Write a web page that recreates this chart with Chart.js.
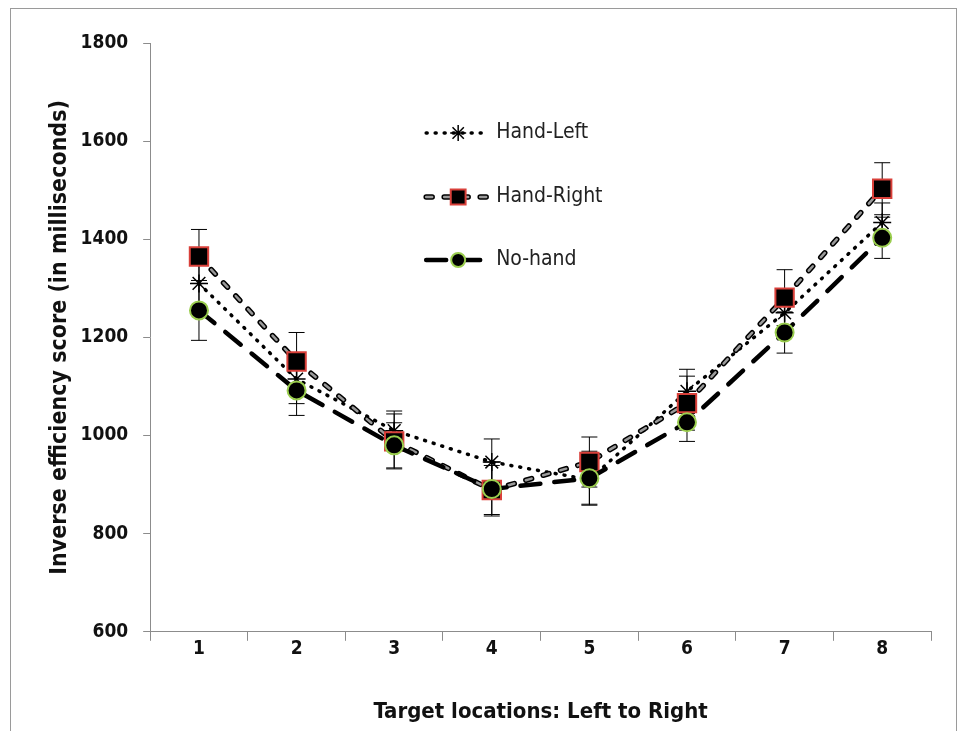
<!DOCTYPE html>
<html>
<head>
<meta charset="utf-8">
<script src="https://cdn.jsdelivr.net/npm/chart.js@4.4.1/dist/chart.umd.min.js"></script>
<style>
  html, body { margin: 0; padding: 0; background: #fff; }
  #wrap { position: relative; width: 967px; height: 731px; }
  #frame { position: absolute; left: 10px; top: 8px; width: 947px; height: 730px; border: 1px solid #9a9a9a; box-sizing: border-box; pointer-events: none; }
</style>
</head>
<body>
<div id="wrap">
  <canvas id="chart"></canvas>
  <div id="frame"></div>
</div>
<script>
// Dados
const categorias = ['1', '2', '3', '4', '5', '6', '7', '8'];
const handLeft = [1310, 1115, 1010, 946, 910, 1090, 1250, 1434];
const handRight = [1365, 1151, 988, 889, 946, 1066, 1281, 1503];
const noHand = [1255, 1092, 980, 891, 913, 1027, 1210, 1403];
const handLeftErr = [55, 50, 40, 47, 50, 45, 45, 40];
const handRightErr = [55, 59, 56, 50, 51, 55, 57, 53];
const noHandErr = [61, 51, 46, 55, 55, 39, 42, 42];
const yTicks = [600, 800, 1000, 1200, 1400, 1600, 1800];

const FONT = '"DejaVu Sans Condensed", "Liberation Sans Narrow", "Open Sans", sans-serif';

// barras de erro desenhadas por baixo das linhas
const errorBars = {
  id: 'errorBars',
  beforeDatasetsDraw(chart) {
    const ctx = chart.ctx;
    const y = chart.scales.y;
    ctx.save();
    ctx.strokeStyle = '#000';
    ctx.lineWidth = 1;
    chart.data.datasets.forEach((ds, i) => {
      const meta = chart.getDatasetMeta(i);
      meta.data.forEach((pt, j) => {
        const v = ds.data[j], e = ds.errors[j];
        const top = y.getPixelForValue(v + e), bot = y.getPixelForValue(v - e);
        ctx.beginPath();
        ctx.moveTo(pt.x, top); ctx.lineTo(pt.x, bot);
        ctx.moveTo(pt.x - 8, top); ctx.lineTo(pt.x + 8, top);
        ctx.moveTo(pt.x - 8, bot); ctx.lineTo(pt.x + 8, bot);
        ctx.stroke();
      });
    });
    ctx.restore();
  }
};

// contorno preto para a linha tracejada cinza (Hand-Right)
function tracarContorno(ctx, pts, ds) {
  ctx.save();
  ctx.strokeStyle = '#000';
  ctx.lineWidth = ds.borderWidth + 3;
  ctx.lineCap = 'round';
  ctx.setLineDash(ds.borderDash);
  ctx.beginPath();
  pts.forEach((p, k) => k ? ctx.lineTo(p.x, p.y) : ctx.moveTo(p.x, p.y));
  ctx.stroke();
  ctx.restore();
}

const outline = {
  id: 'outline',
  beforeDatasetDraw(chart, args) {
    const ds = chart.data.datasets[args.index];
    if (!ds.outlined) return;
    tracarContorno(chart.ctx, args.meta.data, ds);
  }
};

// legenda dentro da área do gráfico
const innerLegend = {
  id: 'innerLegend',
  afterDraw(chart) {
    const ctx = chart.ctx;
    const a = chart.chartArea;
    const x0 = a.left + 276, x1 = a.left + 337, xm = a.left + 308;
    const rows = [133, 197, 260];
    const legRadius = [8, 10.5, 7];
    ctx.save();
    chart.data.datasets.forEach((ds, i) => {
      const yy = rows[i];
      const pts = [{ x: x0, y: yy }, { x: x1, y: yy }];
      if (ds.outlined) tracarContorno(ctx, pts, ds);
      ctx.save();
      ctx.strokeStyle = ds.borderColor;
      ctx.lineWidth = ds.borderWidth;
      ctx.lineCap = 'round';
      ctx.setLineDash(ds.borderDash);
      ctx.beginPath(); ctx.moveTo(x0, yy); ctx.lineTo(x1, yy); ctx.stroke();
      ctx.restore();
      ctx.fillStyle = ds.pointBackgroundColor;
      ctx.strokeStyle = ds.pointBorderColor;
      ctx.lineWidth = ds.pointBorderWidth;
      Chart.helpers.drawPoint(ctx, { pointStyle: ds.pointStyle, radius: legRadius[i], borderWidth: ds.pointBorderWidth, rotation: 0 }, xm, yy);
      ctx.fillStyle = '#222';
      ctx.font = '21px ' + FONT;
      ctx.textBaseline = 'middle';
      ctx.fillText(ds.label, a.left + 346, yy);
    });
    ctx.restore();
  }
};

new Chart(document.getElementById('chart'), {
  type: 'line',
  data: {
    labels: categorias,
    datasets: [
      {
        label: 'Hand-Left', data: handLeft, errors: handLeftErr, order: 2,
        borderColor: '#000', borderWidth: 3.5, borderDash: [1, 8], borderCapStyle: 'round',
        pointStyle: 'star', pointRadius: 9, pointBorderColor: '#000', pointBackgroundColor: '#000', pointBorderWidth: 1.5
      },
      {
        label: 'Hand-Right', data: handRight, errors: handRightErr, order: 1, outlined: true,
        borderColor: '#9a9a9a', borderWidth: 2.5, borderDash: [6, 12], borderCapStyle: 'round',
        pointStyle: 'rect', pointRadius: 13, pointBorderColor: '#d9403a', pointBackgroundColor: '#000', pointBorderWidth: 2
      },
      {
        label: 'No-hand', data: noHand, errors: noHandErr, order: 0,
        borderColor: '#000', borderWidth: 4.5, borderDash: [20, 14], borderCapStyle: 'round',
        pointStyle: 'circle', pointRadius: 9, pointBorderColor: '#9acd4e', pointBackgroundColor: '#000', pointBorderWidth: 2
      }
    ]
  },
  options: {
    responsive: true,
    maintainAspectRatio: false,
    animation: false,
    layout: { padding: { top: 43, right: 36, left: 42, bottom: 2 } },
    plugins: { legend: { display: false }, tooltip: { enabled: false } },
    scales: {
      x: {
        offset: true,
        grid: { offset: true, drawOnChartArea: false, tickLength: 9, color: '#8c8c8c' },
        border: { color: '#8c8c8c' },
        ticks: { color: '#111', font: { family: FONT, size: 19, weight: 'bold' }, padding: -3 },
        title: { display: true, text: 'Target locations: Left to Right', color: '#111', font: { family: FONT, size: 22, weight: 'bold' }, padding: { top: 41 } }
      },
      y: {
        min: 600, max: 1800,
        afterBuildTicks(s) { s.ticks = yTicks.map(v => ({ value: v })); },
        grid: { drawOnChartArea: false, tickLength: 7, color: '#8c8c8c' },
        border: { color: '#8c8c8c' },
        ticks: { color: '#111', font: { family: FONT, size: 19, weight: 'bold' }, padding: 15, callback: v => String(v) },
        title: { display: true, text: 'Inverse efficiency score (in milliseconds)', color: '#111', font: { family: FONT, size: 23, weight: 'bold' }, padding: { bottom: -8 } }
      }
    }
  },
  plugins: [errorBars, outline, innerLegend]
});
</script>
</body>
</html>
